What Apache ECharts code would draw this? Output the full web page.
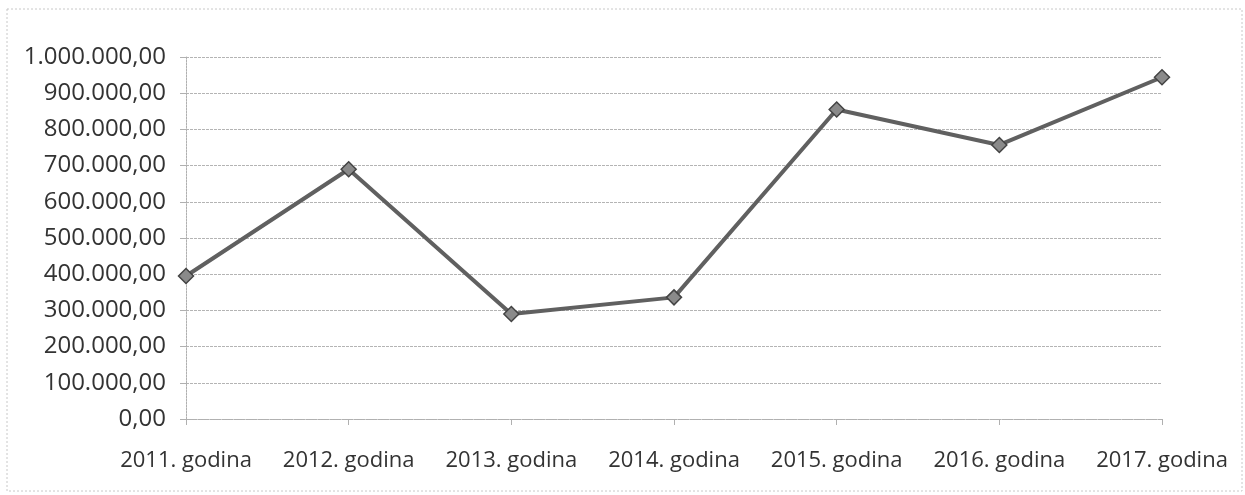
<!DOCTYPE html>
<html>
<head>
<meta charset="utf-8">
<script src="https://cdn.jsdelivr.net/npm/echarts@6/dist/echarts.min.js"></script>
<style>
  html, body { margin: 0; padding: 0; background: #fff; }
  #chart { width: 1245px; height: 495px; }
</style>
</head>
<body>
<div id="chart"></div>
<script>
var years = ['2011. godina', '2012. godina', '2013. godina', '2014. godina', '2015. godina', '2016. godina', '2017. godina'];
var values = [395000, 690000, 290000, 336000, 855000, 757000, 944000];

// 1.000.000,00 style
function fmt(v) {
  var s = Math.round(v).toString().replace(/\B(?=(\d{3})+(?!\d))/g, '.');
  return s + ',00';
}

var chart = echarts.init(document.getElementById('chart'));
chart.setOption({
  animation: false,
  textStyle: { fontFamily: 'Open Sans' },
  graphic: [{
    type: 'rect',
    shape: { x: 7, y: 9, width: 1235, height: 482 },
    style: { fill: 'none', stroke: '#c8c8c8', lineWidth: 1, lineDash: [2, 2] },
    silent: true
  }],
  grid: { left: 186, right: 83, top: 57, bottom: 76 },
  xAxis: {
    type: 'category',
    data: years,
    boundaryGap: false,
    axisLine: { lineStyle: { color: '#b0b0b0', type: [2, 1] } },
    axisTick: { show: true, alignWithLabel: true, length: 6, lineStyle: { color: '#b0b0b0' } },
    axisLabel: { color: '#333', fontSize: 22, margin: 31, interval: 0, hideOverlap: false },
    splitLine: { show: false }
  },
  yAxis: {
    type: 'value',
    min: 0,
    max: 1000000,
    interval: 100000,
    axisLine: { show: true, lineStyle: { color: '#b0b0b0', type: [2, 1] } },
    axisTick: { show: true, length: 6, lineStyle: { color: '#b0b0b0' } },
    axisLabel: { color: '#333', fontSize: 24, margin: 20, formatter: fmt },
    splitLine: { lineStyle: { color: '#b4b4b4', type: [3, 1] } }
  },
  series: [{
    type: 'line',
    data: values,
    symbol: 'diamond',
    symbolSize: 15,
    lineStyle: { color: '#606060', width: 4 },
    itemStyle: { color: '#8a8a8a', borderColor: '#444', borderWidth: 1.5 }
  }]
});
</script>
</body>
</html>
